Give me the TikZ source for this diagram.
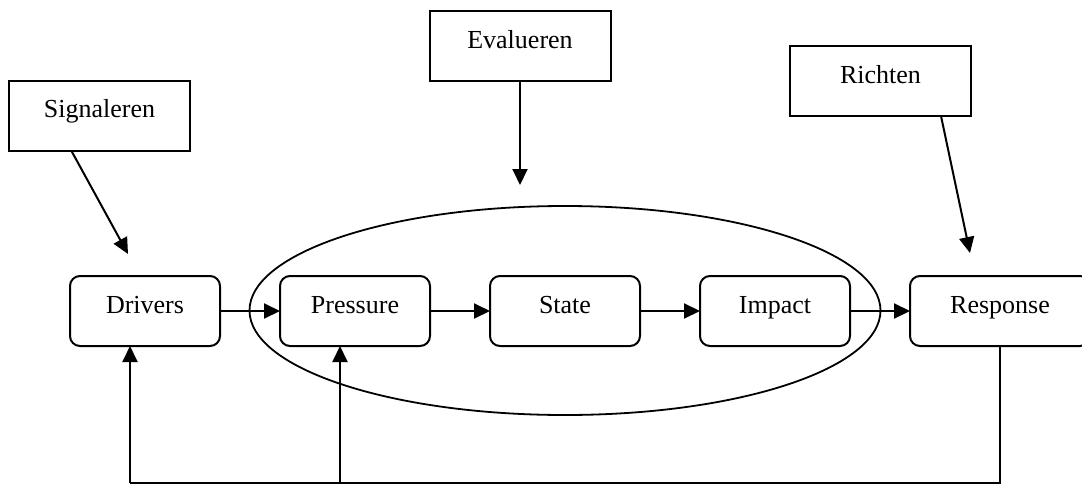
\documentclass[tikz,border=0pt]{standalone}
\usepackage{fontspec}
\setmainfont{Liberation Serif}
\usetikzlibrary{arrows.meta,shapes.geometric}
\begin{document}
\begin{tikzpicture}[x=1pt,y=-1pt,
  font=\fontsize{26}{30}\selectfont,
  every node/.style={inner sep=0pt,outer sep=0pt},
  tbox/.style={draw,line width=2pt,minimum width=181pt,minimum height=70pt,text height=18pt,text depth=14pt},
  rbox/.style={draw,line width=2pt,rounded corners=10pt,minimum width=150pt,minimum height=70pt,text height=18pt,text depth=13pt},
  conn/.style={line width=2pt,-{Triangle[length=16pt,width=15pt]}},
  plain/.style={line width=2pt}]
\clip (0,0) rectangle (1082,485);
\useasboundingbox (0,0) rectangle (1082,485);
% ellipse
\node (ell) [draw,ellipse,line width=1.8pt,minimum width=631pt,minimum height=209pt] at (565,310.5) {};
% main chain
\node (drv) [rbox] at (145,311) {Drivers};
\node (prs) [rbox] at (355,311) {Pressure};
\node (sta) [rbox] at (565,311) {State};
\node (imp) [rbox] at (775,311) {Impact};
\node (rsp) [rbox,minimum width=180pt] at (1000,311) {Response};
% top boxes
\node (sig) [tbox] at (99.5,115.5) {Signaleren};
\node (eva) [tbox] at (520,46) {Evalueren};
\node (ric) [tbox] at (880.5,81) {Richten};
% free ends
\coordinate (sigtip) at (128,254);
\coordinate (evatip) at (520,185);
\coordinate (rictip) at (970,253);
\coordinate (sigst) at (71.5,151);
\coordinate (ricst) at (941,116);
\coordinate (bl) at (130,483);
\coordinate (bm) at (340,483);
\coordinate (br) at (1000,483);
% arrows
\draw[conn] (drv.east) -- (prs.west);
\draw[conn] (prs.east) -- (sta.west);
\draw[conn] (sta.east) -- (imp.west);
\draw[conn] (imp.east) -- (rsp.west);
\draw[conn] (sigst) -- (sigtip);
\draw[conn] (eva.south) -- (evatip);
\draw[conn] (ricst) -- (rictip);
% feedback
\draw[plain] (rsp.south) -- (br) -- (bl);
\draw[conn] (bl) -- (bl |- drv.south);
\draw[conn] (bm) -- (bm |- prs.south);
\end{tikzpicture}
\end{document}
